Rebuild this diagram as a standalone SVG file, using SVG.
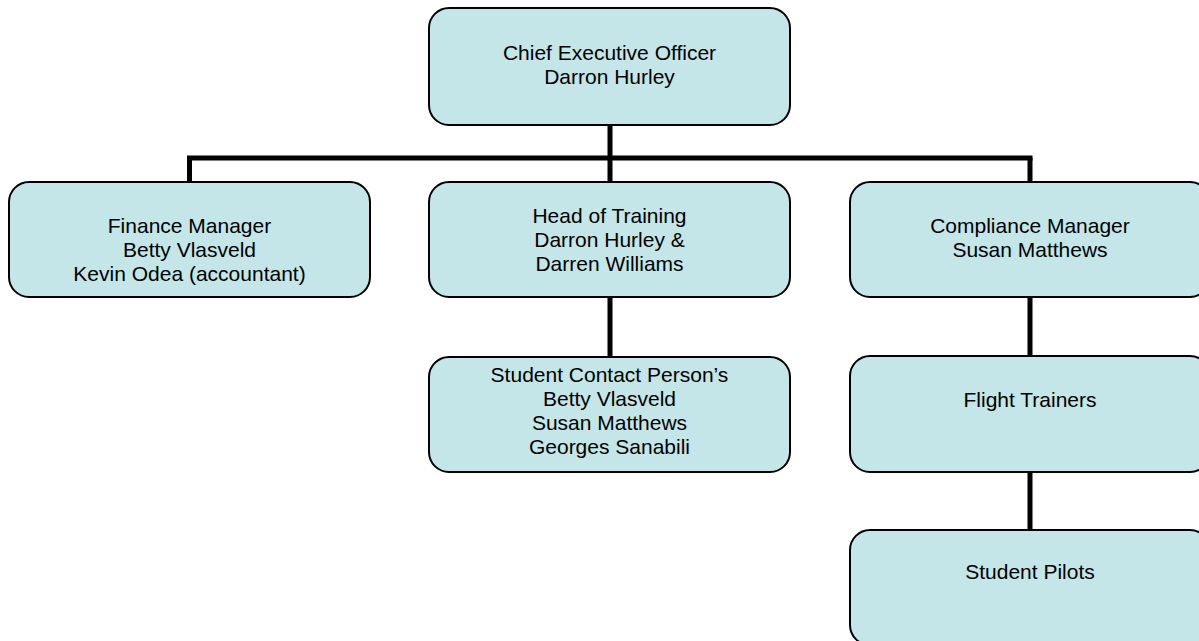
<svg xmlns="http://www.w3.org/2000/svg" width="1199" height="641" viewBox="0 0 1199 641">
<style>
.box{fill:#C4E6E8;stroke:#000;stroke-width:2}
.lbl{font-family:"Liberation Sans",Arial,sans-serif;font-size:21px;fill:#000;text-anchor:middle}
.conn{stroke:#000;stroke-width:5;fill:none}
</style>
<rect width="1199" height="641" fill="#fff"/>
<g id="connectors">
<line class="conn" x1="610" y1="125" x2="610" y2="158"/>
<line class="conn" x1="187" y1="158" x2="1032.5" y2="158"/>
<line class="conn" x1="189.5" y1="158" x2="189.5" y2="182"/>
<line class="conn" x1="610" y1="158" x2="610" y2="182"/>
<line class="conn" x1="1030" y1="158" x2="1030" y2="182"/>
<line class="conn" x1="610" y1="297" x2="610" y2="357"/>
<line class="conn" x1="1030" y1="297" x2="1030" y2="356"/>
<line class="conn" x1="1030" y1="472" x2="1030" y2="530"/>
</g>
<g id="ceo">
<rect class="box" x="429" y="8" width="361" height="117" rx="20"/>
<text class="lbl" x="609.5" y="60">Chief Executive Officer</text>
<text class="lbl" x="609.5" y="84">Darron Hurley</text>
</g>
<g id="finance">
<rect class="box" x="9" y="182" width="361" height="115" rx="20"/>
<text class="lbl" x="189.5" y="233">Finance Manager</text>
<text class="lbl" x="189.5" y="257">Betty Vlasveld</text>
<text class="lbl" x="189.5" y="281">Kevin Odea (accountant)</text>
</g>
<g id="training">
<rect class="box" x="429" y="182" width="361" height="115" rx="20"/>
<text class="lbl" x="609.5" y="223">Head of Training</text>
<text class="lbl" x="609.5" y="247">Darron Hurley &amp;</text>
<text class="lbl" x="609.5" y="271">Darren Williams</text>
</g>
<g id="compliance">
<rect class="box" x="850" y="182" width="360" height="115" rx="20"/>
<text class="lbl" x="1030" y="233">Compliance Manager</text>
<text class="lbl" x="1030" y="257">Susan Matthews</text>
</g>
<g id="contact">
<rect class="box" x="429" y="357" width="361" height="115" rx="20"/>
<text class="lbl" x="609.5" y="382">Student Contact Person’s</text>
<text class="lbl" x="609.5" y="406">Betty Vlasveld</text>
<text class="lbl" x="609.5" y="430">Susan Matthews</text>
<text class="lbl" x="609.5" y="454">Georges Sanabili</text>
</g>
<g id="trainers">
<rect class="box" x="850" y="356" width="360" height="116" rx="20"/>
<text class="lbl" x="1030" y="407">Flight Trainers</text>
</g>
<g id="pilots">
<rect class="box" x="850" y="530" width="360" height="115" rx="20"/>
<text class="lbl" x="1030" y="579">Student Pilots</text>
</g>
</svg>
